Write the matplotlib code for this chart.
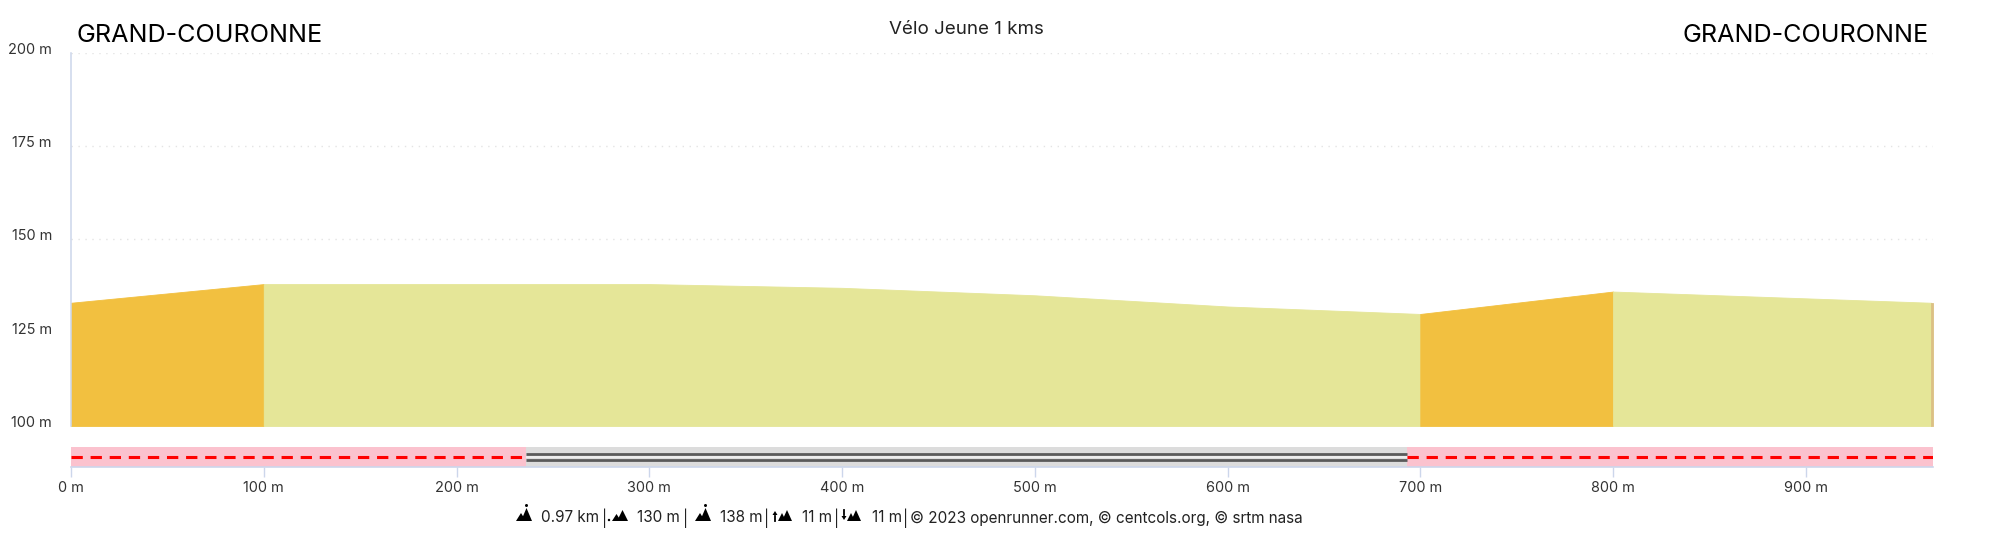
import matplotlib
matplotlib.use("Agg")
import numpy as np
import matplotlib.pyplot as plt
from matplotlib.patches import Polygon, Ellipse

plt.rcParams['font.family'] = ['Inter', 'DejaVu Sans']

# profile
dist = [0, 100, 200, 300, 400, 500, 600, 700, 800, 965, 966]
elev = [133, 138, 138, 138, 137, 135, 132, 130, 136, 133, 133]

# slope classes along the route
seg_start = [0, 100, 700, 800, 965]
seg_end = [100, 700, 800, 965, 966]
seg_color = ['#f2c040', '#e5e698', '#f2c040', '#e5e698', '#dcc084']

# surface strip
surf_start = [0, 236, 693]
surf_end = [236, 693, 966]
surf_type = ['path', 'road', 'path']

x_ticks = [0, 100, 200, 300, 400, 500, 600, 700, 800, 900]
y_ticks = [100, 125, 150, 175, 200]

W, H = 2000, 533
AXIS = '#ccd6eb'
LABEL = '#333333'
LEFT, RIGHT = 71, 1933


def fx(x):
    return x / W


def fy(y):
    return 1 - y / H


fig = plt.figure(figsize=(20, 5.33), dpi=100)

# main profile
ax = fig.add_axes([fx(LEFT), fy(426), (RIGHT - LEFT) / W, (426 - 52.5) / H])
d = np.array(dist)
e = np.array(elev)
for s, t, c in zip(seg_start, seg_end, seg_color):
    m = (d >= s) & (d <= t)
    ax.fill_between(d[m], 100, e[m], color=c, linewidth=0.6, zorder=2)
ax.set_xlim(0, 966)
ax.set_ylim(100, 200)
ax.set_yticks(y_ticks)
ax.set_yticklabels([])
ax.set_xticks([])
ax.tick_params(left=False)
ax.grid(axis='y', color='#e4e4e4', linestyle=(0, (1, 4)), linewidth=1, zorder=3)
for k in ['top', 'right', 'bottom']:
    ax.spines[k].set_visible(False)
ax.spines['left'].set_color(AXIS)
ax.spines['left'].set_linewidth(1.1)
for v in y_ticks:
    yp = ax.transData.transform((0, v))[1] / fig.bbox.height
    fig.text(fx(52), yp + 3 / H, f"{v} m", ha='right', va='center', fontsize=10.4, color=LABEL)

# surface strip
ax2 = fig.add_axes([fx(LEFT), fy(467), (RIGHT - LEFT) / W, (467 - 446.5) / H])
for s, t, k in zip(surf_start, surf_end, surf_type):
    if k == 'path':
        ax2.axvspan(s, t, color='#fbc2ce', linewidth=0, zorder=1)
        ax2.plot([s, t], [0.5, 0.5], color='#ff0000', linewidth=2.2, dashes=(3.7, 2.55),
                 dash_capstyle='butt', zorder=2)
    else:
        ax2.axvspan(s, t, color='#dcdcdc', linewidth=0, zorder=1)
        ax2.plot([s, t], [0.36, 0.36], color='#5a5a5a', linewidth=2, solid_capstyle='butt', zorder=2)
        ax2.plot([s, t], [0.62, 0.62], color='#5a5a5a', linewidth=2, solid_capstyle='butt', zorder=2)
        ax2.plot([s, t], [0.49, 0.49], color='#f0f0f0', linewidth=1.2, solid_capstyle='butt', zorder=2)
ax2.set_xlim(0, 966)
ax2.set_ylim(0, 1)
ax2.set_yticks([])
ax2.set_xticks(x_ticks)
ax2.set_xticklabels([f"{v} m" for v in x_ticks], fontsize=10.4, color=LABEL)
ax2.tick_params(axis='x', length=7.5, width=1, color=AXIS, pad=2.5)
for k in ['top', 'right', 'left']:
    ax2.spines[k].set_visible(False)
ax2.spines['bottom'].set_color(AXIS)
ax2.spines['bottom'].set_linewidth(1.2)

# titles
fig.text(fx(966), fy(29.5), "Vélo Jeune 1 kms", ha='center', va='center', fontsize=13.5, color='#222222')
fig.text(fx(76), fy(35.5), "GRAND-COURONNE", ha='left', va='center', fontsize=18.1, color='#000000')
fig.text(fx(1929), fy(35.5), "GRAND-COURONNE", ha='right', va='center', fontsize=18.1, color='#000000')


# footer icons
def tri(x0, x1, top, base=521):
    tip = (x0 + x1) / 2
    fig.add_artist(Polygon([(fx(x0), fy(base)), (fx(tip), fy(top)), (fx(x1), fy(base))],
                           transform=fig.transFigure, color='black', linewidth=0))


def dot(x, y, r=1.5):
    fig.add_artist(Ellipse((fx(x), fy(y)), 2 * r / W, 2 * r / H, transform=fig.transFigure,
                           color='black', linewidth=0))


def arrow(x, up):
    a, b = (521, 511) if up else (510, 520)
    fig.add_artist(plt.Line2D([fx(x), fx(x)], [fy(a), fy((a + b) / 2)], transform=fig.transFigure,
                              color='black', linewidth=1.3))
    s = 1 if up else -1
    fig.add_artist(Polygon([(fx(x - 2.5), fy(b + 4 * s)), (fx(x), fy(b)), (fx(x + 2.5), fy(b + 4 * s))],
                           transform=fig.transFigure, color='black', linewidth=0))


tri(516, 526, 513)
tri(521, 532, 508)
dot(526.5, 505.5)

dot(609, 520, 1.2)
tri(612, 621, 514)
tri(617, 628, 510)

tri(695, 705, 513)
tri(700, 711, 508)
dot(705.5, 505.5)

arrow(775, True)
tri(778, 786, 513)
tri(782, 792, 510)

arrow(844, False)
tri(847, 855, 513)
tri(851, 861, 510)

# footer text
foot = [(541, "0.97 km"), (602, "|"), (637, "130 m"), (683, "|"), (720, "138 m"), (764, "|"),
        (802, "11 m"), (834, "|"), (872, "11 m"), (903, "|"),
        (910, "© 2023 openrunner.com, © centcols.org, © srtm nasa")]
for xp, t in foot:
    fig.text(fx(xp), fy(518), t, ha='left', va='center', fontsize=11, color='#222222')

fig.savefig("out.png", dpi=100)
